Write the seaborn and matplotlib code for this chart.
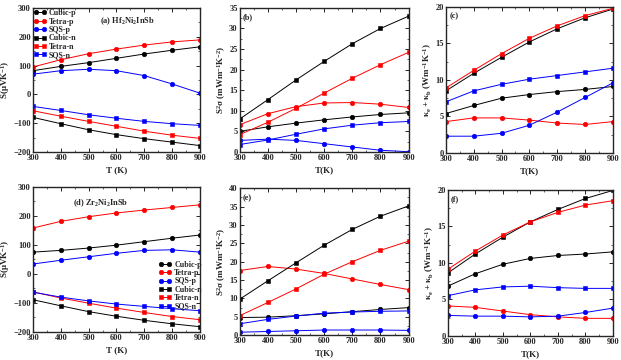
import matplotlib
matplotlib.use('Agg')
import matplotlib.pyplot as plt
from matplotlib.ticker import AutoMinorLocator, MultipleLocator
import seaborn as sns

sns.set_style('ticks')
plt.rcParams['font.family'] = ['Liberation Serif', 'DejaVu Serif']
plt.rcParams['font.weight'] = 'bold'
plt.rcParams['mathtext.fontset'] = 'custom'
plt.rcParams['mathtext.rm'] = 'Liberation Serif:bold'
plt.rcParams['mathtext.it'] = 'Liberation Serif:bold'
plt.rcParams['mathtext.default'] = 'regular'

T = [300, 400, 500, 600, 700, 800, 900]
labels = ['Cubic-p', 'Tetra-p', 'SQS-p', 'Cubic-n', 'Tetra-n', 'SQS-n']

# Hf2Ni2InSb
a_S = [
    [82, 97, 110, 125, 140, 153, 165],
    [95, 120, 141, 157, 171, 182, 189],
    [70, 82, 87, 82, 65, 36, 4],
    [-80, -102, -123, -140, -154, -166, -178],
    [-57, -76, -94, -111, -128, -142, -153],
    [-42, -56, -71, -83, -94, -102, -108],
]
b_PF = [
    [5.0, 6.1, 7.0, 7.8, 8.5, 9.1, 9.5],
    [6.6, 9.3, 11.0, 11.9, 12.0, 11.6, 10.8],
    [2.8, 3.1, 2.8, 2.0, 1.2, 0.4, 0.05],
    [8.0, 12.7, 17.5, 22.0, 26.3, 30.0, 33.0],
    [4.2, 7.2, 10.6, 14.3, 17.9, 21.2, 24.2],
    [1.8, 2.9, 4.3, 5.6, 6.5, 7.1, 7.4],
]
c_K = [
    [5.4, 6.5, 7.5, 8.0, 8.4, 8.7, 9.1],
    [4.3, 4.8, 4.8, 4.5, 4.1, 3.9, 4.3],
    [2.3, 2.3, 2.7, 3.8, 5.6, 7.6, 9.6],
    [8.5, 10.9, 13.1, 15.2, 17.0, 18.5, 19.7],
    [8.9, 11.3, 13.6, 15.7, 17.4, 18.8, 19.8],
    [7.0, 8.5, 9.4, 10.1, 10.6, 11.1, 11.6],
]
# Zr2Ni2InSb
d_S = [
    [75, 81, 89, 99, 111, 123, 134],
    [158, 181, 197, 210, 220, 229, 238],
    [34, 47, 59, 71, 81, 83, 75],
    [-89, -110, -130, -146, -160, -172, -182],
    [-62, -83, -101, -118, -133, -147, -158],
    [-63, -80, -93, -104, -112, -120, -127],
]
e_PF = [
    [4.8, 4.9, 5.3, 5.8, 6.4, 7.0, 7.5],
    [17.6, 18.7, 18.0, 16.8, 15.3, 13.8, 12.4],
    [0.8, 1.0, 1.2, 1.4, 1.4, 1.4, 1.3],
    [9.8, 14.8, 19.7, 24.5, 28.8, 32.4, 35.2],
    [5.3, 8.9, 12.6, 16.6, 20.0, 23.1, 25.6],
    [3.1, 4.3, 5.2, 6.0, 6.3, 6.5, 6.6],
]
f_K = [
    [6.8, 8.5, 9.8, 10.6, 11.0, 11.2, 11.5],
    [4.1, 3.9, 3.4, 2.9, 2.6, 2.4, 2.4],
    [2.8, 2.7, 2.7, 2.6, 2.7, 3.2, 3.8],
    [8.6, 11.2, 13.5, 15.6, 17.3, 18.8, 19.9],
    [9.1, 11.6, 13.8, 15.6, 16.9, 17.9, 18.5],
    [5.5, 6.3, 6.7, 6.8, 6.6, 6.5, 6.5],
]

colors = ['black', 'red', 'blue', 'black', 'red', 'blue']
markers = ['o', 'o', 'o', 's', 's', 's']

fig = plt.figure(figsize=(6.21, 3.6), dpi=100)

boxes = [
    [0.053, 0.578, 0.269, 0.400],
    [0.386, 0.578, 0.272, 0.400],
    [0.718, 0.575, 0.269, 0.406],
    [0.053, 0.078, 0.269, 0.403],
    [0.386, 0.069, 0.272, 0.408],
    [0.721, 0.067, 0.266, 0.406],
]
datasets = [a_S, b_PF, c_K, d_S, e_PF, f_K]
ylims = [(-200, 300), (0, 35), (0, 20), (-200, 300), (0, 40), (0, 20)]
ysteps = [100, 5, 5, 100, 5, 5]
ylabels = [r'S($\mu$VK$^{-1}$)', r'S$^2\sigma$ (mWm$^{-1}$K$^{-2}$)',
           r'$\kappa_e$ + $\kappa_b$ (Wm$^{-1}$K$^{-1}$)'] * 2
xlabels = ['T (K)', 'T(K)', 'T(K)', 'T (K)', 'T(K)', 'T(K)']
tags = ['(a) Hf$_2$Ni$_2$InSb', '(b)', '(c)', '(d) Zr$_2$Ni$_2$InSb', '(e)', '(f)']
tagpos = [(0.40, 0.95), (0.02, 0.96), (0.02, 0.96), (0.24, 0.93), (0.02, 0.96), (0.02, 0.96)]

for i, (box, data) in enumerate(zip(boxes, datasets)):
    ax = fig.add_axes(box)
    for j, vals in enumerate(data):
        sns.lineplot(x=T, y=vals, ax=ax, color=colors[j], marker=markers[j],
                     markersize=3.3, markeredgewidth=0.4, markeredgecolor=colors[j],
                     linewidth=0.7, label=labels[j], legend=(i in (0, 3)))
    ax.set_xlim(300, 900)
    ax.set_ylim(*ylims[i])
    ax.xaxis.set_major_locator(MultipleLocator(100))
    ax.yaxis.set_major_locator(MultipleLocator(ysteps[i]))
    ax.xaxis.set_minor_locator(AutoMinorLocator(2))
    ax.yaxis.set_minor_locator(AutoMinorLocator(2))
    ax.tick_params(which='both', direction='in', top=True, right=True,
                   labelsize=6, pad=1.5)
    ax.tick_params(which='major', length=3, width=0.7)
    ax.tick_params(which='minor', length=1.7, width=0.5)
    for sp in ax.spines.values():
        sp.set_linewidth(1.0)
    ax.set_xlabel(xlabels[i], fontsize=6.5, fontweight='bold', labelpad=3)
    ax.set_ylabel(ylabels[i], fontsize=6.5, fontweight='bold', labelpad=1)
    ax.text(tagpos[i][0], tagpos[i][1], tags[i], transform=ax.transAxes,
            fontsize=6, fontweight='bold', va='top')
    if i == 0:
        ax.legend(loc='upper left', bbox_to_anchor=(-0.03, 1.03), frameon=False,
                  fontsize=5.8, numpoints=2, handlelength=1.6, handletextpad=0.3,
                  labelspacing=0.05, borderpad=0.2)
    elif i == 3:
        ax.legend(loc='upper left', bbox_to_anchor=(0.72, 0.53), frameon=False,
                  fontsize=5.8, numpoints=2, handlelength=1.6, handletextpad=0.3,
                  labelspacing=0.05, borderpad=0.2)

fig.savefig('out.png', dpi=100)
